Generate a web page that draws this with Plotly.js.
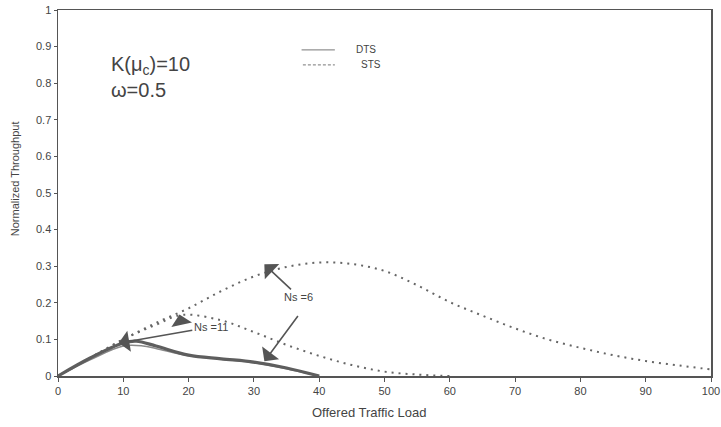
<!DOCTYPE html>
<html>
<head>
<meta charset="utf-8">
<script src="https://cdn.plot.ly/plotly-3.0.1.min.js"></script>
<style>html,body{margin:0;padding:0;background:#fff;}#chart{width:721px;height:427px;}</style>
</head>
<body>
<div id="chart"></div>
<script>
// Offered traffic load (x) and normalized throughput (y)
const loadSTS6 = [0, 5, 10, 15, 20, 25, 30, 35, 40, 45, 50, 55, 60, 65, 70, 75, 80, 85, 90, 95, 100];
const thrSTS6  = [0, 0.05, 0.1, 0.145, 0.185, 0.232, 0.272, 0.298, 0.31, 0.306, 0.287, 0.248, 0.202, 0.165, 0.13, 0.1, 0.077, 0.057, 0.041, 0.029, 0.018];
const loadSTS11 = [0, 5, 10, 15, 19, 25, 30, 35, 40, 45, 50, 55, 60];
const thrSTS11  = [0, 0.05, 0.1, 0.14, 0.167, 0.152, 0.12, 0.085, 0.055, 0.03, 0.012, 0.004, 0];
const loadDTS6 = [0, 5, 10, 12, 15, 20, 25, 30, 35, 40];
const thrDTS6  = [0, 0.05, 0.09, 0.095, 0.082, 0.057, 0.047, 0.038, 0.022, 0];
const loadDTS11 = [0, 5, 10, 13, 15, 20, 25, 30, 35, 40];
const thrDTS11  = [0, 0.045, 0.082, 0.082, 0.075, 0.055, 0.046, 0.036, 0.02, 0];
const xTicks = [0, 10, 20, 30, 40, 50, 60, 70, 80, 90, 100];
const yTicks = [0, 0.1, 0.2, 0.3, 0.4, 0.5, 0.6, 0.7, 0.8, 0.9, 1];
const legendNames = ['DTS', 'STS'];
const xTitle = 'Offered Traffic Load';
const yTitle = 'Normalized Throughput';
const paramText = 'K(μ<sub>c</sub>)=10<br>ω=0.5';
const labelNs6 = 'Ns =6';
const labelNs11 = 'Ns =11';

const dotDash = '2px,5px';
const traces = [
  {x: loadSTS6, y: thrSTS6, mode: 'lines', line: {color: '#666', width: 2, dash: dotDash, shape: 'spline'}, showlegend: false},
  {x: loadSTS11, y: thrSTS11, mode: 'lines', line: {color: '#666', width: 2, dash: dotDash, shape: 'spline'}, showlegend: false},
  {x: loadDTS11, y: thrDTS11, mode: 'lines', line: {color: '#8a8a8a', width: 1.5, shape: 'spline'}, showlegend: false},
  {x: loadDTS6, y: thrDTS6, mode: 'lines', line: {color: '#5e5e5e', width: 3.2, shape: 'spline'}, showlegend: false}
];

const arrowStyle = {showarrow: true, arrowhead: 1, arrowsize: 2.2, arrowwidth: 1.6, arrowcolor: '#555', axref: 'x', ayref: 'y', font: {size: 11, color: '#444'}};
const layout = {
  width: 721, height: 427,
  margin: {l: 58, r: 10, t: 10, b: 51},
  paper_bgcolor: '#fff', plot_bgcolor: '#fff',
  font: {family: 'Liberation Sans, Arial, sans-serif', color: '#444', size: 11},
  xaxis: {range: [0, 100], tickvals: xTicks, ticktext: xTicks.map(String), ticks: 'outside', ticklen: 4, tickcolor: '#555',
          showline: true, linecolor: '#555', linewidth: 1.5, mirror: true, showgrid: false, zeroline: false,
          tickfont: {size: 11, color: '#444'}},
  yaxis: {range: [0, 1], tickvals: yTicks, ticktext: yTicks.map(String), ticks: 'outside', ticklen: 3, tickcolor: '#555',
          showline: true, linecolor: '#555', linewidth: 1.5, mirror: true, showgrid: false, zeroline: false,
          tickfont: {size: 11, color: '#444'}},
  shapes: [
    {type: 'line', xref: 'paper', yref: 'paper', x0: 0.373, x1: 0.424, y0: 0.891, y1: 0.891, line: {color: '#777', width: 1}},
    {type: 'line', xref: 'paper', yref: 'paper', x0: 0.375, x1: 0.424, y0: 0.85, y1: 0.85, line: {color: '#777', width: 1, dash: '3px,2px'}}
  ],
  annotations: [
    {xref: 'paper', yref: 'paper', x: 0.471, y: 0.891, text: legendNames[0], showarrow: false, xanchor: 'center', yanchor: 'middle', font: {size: 10, color: '#444'}},
    {xref: 'paper', yref: 'paper', x: 0.48, y: 0.85, text: legendNames[1], showarrow: false, xanchor: 'center', yanchor: 'middle', font: {size: 10, color: '#444'}},
    {xref: 'paper', yref: 'paper', x: 0.078, y: 0.817, text: paramText, showarrow: false, xanchor: 'left', yanchor: 'middle', align: 'left', font: {size: 20, color: '#444'}},
    {xref: 'paper', yref: 'paper', x: 0.477, y: -0.1, text: xTitle, showarrow: false, xanchor: 'center', yanchor: 'middle', font: {size: 13, color: '#444'}},
    {xref: 'paper', yref: 'paper', x: -0.066, y: 0.54, text: yTitle, showarrow: false, textangle: -90, xanchor: 'center', yanchor: 'middle', font: {size: 11, color: '#444'}},
    Object.assign({x: 31.6, y: 0.305, ax: 36.9, ay: 0.216, text: labelNs6}, arrowStyle),
    Object.assign({x: 31.6, y: 0.04, ax: 37.2, ay: 0.175, text: ' '}, arrowStyle),
    Object.assign({x: 9.3, y: 0.09, ax: 23.4, ay: 0.134, text: labelNs11}, arrowStyle),
    Object.assign({x: 18.6, y: 0.168, ax: 19.0, ay: 0.135, text: ' '}, arrowStyle)
  ]
};
Plotly.newPlot('chart', traces, layout, {displayModeBar: false, staticPlot: true});
</script>
</body>
</html>
